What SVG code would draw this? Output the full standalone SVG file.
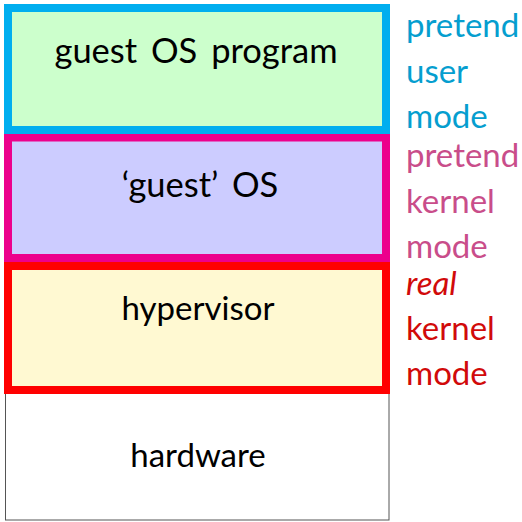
<svg xmlns="http://www.w3.org/2000/svg" width="522" height="522" viewBox="0 0 522 522">
<style>
.t{font-family:Lato,"Open Sans","Liberation Sans",sans-serif;font-size:33px;fill:#000;text-anchor:middle}
.w{font-size:34.5px;word-spacing:5px}
.l{font-family:Lato,"Open Sans","Liberation Sans",sans-serif;font-size:33px}
.b{fill:#059ecf}.m{fill:#c94d8a}.r{fill:#d10a0a}
</style>
<rect width="522" height="522" fill="#fff"/>
<g id="hardware"><rect x="5.5" y="390" width="383.5" height="130" fill="#fff" stroke="#555" stroke-width="1"/><text class="t" x="198" y="467">hardware</text></g>
<g id="hypervisor"><rect x="8" y="266" width="378" height="124" fill="#fff9d2" stroke="#ff0000" stroke-width="8"/><text class="t" x="198" y="320">hypervisor</text></g>
<g id="guest-os"><rect x="8" y="137.5" width="378" height="120.5" fill="#ccccff" stroke="#ec008c" stroke-width="8"/><text class="t w" x="200" y="197">‘guest’ OS</text></g>
<g id="guest-program"><rect x="8" y="8" width="378" height="122" fill="#ccffcc" stroke="#00aeef" stroke-width="8"/><text class="t w" x="196" y="63">guest OS program</text></g>
<g id="labels">
<text class="l b" x="406" y="37">pretend</text><text class="l b" x="406" y="83">user</text><text class="l b" x="406" y="128">mode</text>
<text class="l m" x="406" y="167">pretend</text><text class="l m" x="406" y="213">kernel</text><text class="l m" x="406" y="258">mode</text>
<text class="l r" x="406" y="295" font-style="italic">real</text><text class="l r" x="406" y="340">kernel</text><text class="l r" x="406" y="385">mode</text>
</g>
<g id="connectors"/>
</svg>
